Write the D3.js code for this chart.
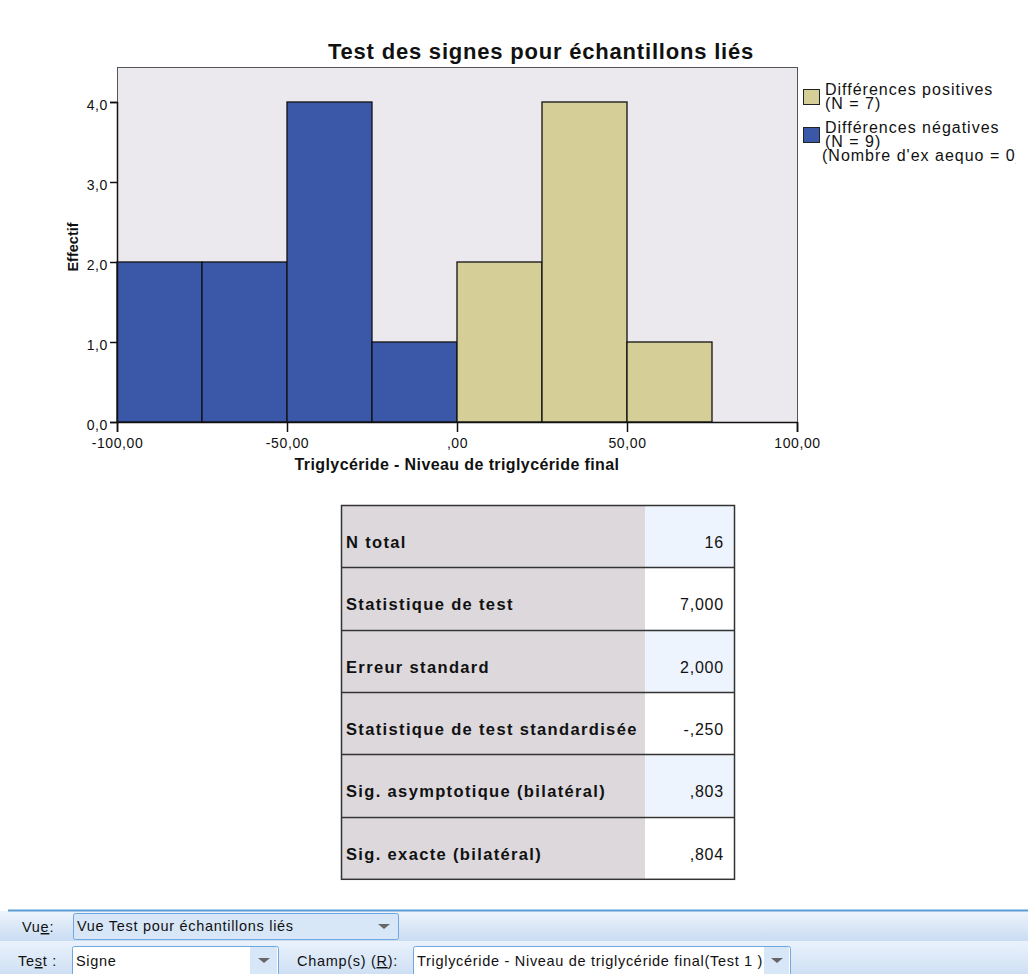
<!DOCTYPE html>
<html><head><meta charset="utf-8">
<script src="https://cdn.jsdelivr.net/npm/d3@7"></script>
<style>
html,body{margin:0;padding:0;background:#fff;}
svg{display:block;font-family:"Liberation Sans",Arial,sans-serif;}
</style></head>
<body><svg id="c" width="1028" height="974"></svg>
<script>
const binStarts = [-100, -75, -50, -25, 0, 25, 50];
const binCounts = [2, 2, 4, 1, 2, 4, 1];
const binGroup = ["neg","neg","neg","neg","pos","pos","pos"];
const xTicks = [-100, -50, 0, 50, 100];
const xTickLabels = ["-100,00", "-50,00", ",00", "50,00", "100,00"];
const yTicks = [0, 1, 2, 3, 4];
const yTickLabels = ["0,0", "1,0", "2,0", "3,0", "4,0"];
const legendLabels = [["Différences positives","(N = 7)"],["Différences négatives","(N = 9)","(Nombre d'ex aequo = 0)"]];
const tableLabels = ["N total","Statistique de test","Erreur standard","Statistique de test standardisée","Sig. asymptotique (bilatéral)","Sig. exacte (bilatéral)"];
const tableValues = ["16","7,000","2,000","-,250",",803",",804"];

const colors = {neg:"#3B58A8", pos:"#D5CE96"};
const svg = d3.select("#c");

const L=117, R=797, T=67, B=422;
const x = d3.scaleLinear().domain([-100,100]).range([L,R]);
const y = d3.scaleLinear().domain([0,4]).range([B,102]);

svg.append("rect").attr("x",L).attr("y",T).attr("width",R-L).attr("height",B-T).attr("fill","#ECE9EE");
svg.append("path").attr("d",`M${L},${B}V${T}H${R}V${B}`).attr("fill","none").attr("stroke","#555").attr("stroke-width",1).attr("shape-rendering","crispEdges");

svg.selectAll("rect.bar").data(binStarts).enter().append("rect").attr("class","bar")
  .attr("x",d=>x(d)).attr("width",(d)=>x(d+25)-x(d))
  .attr("y",(d,i)=>y(binCounts[i])).attr("height",(d,i)=>B-y(binCounts[i]))
  .attr("fill",(d,i)=>colors[binGroup[i]]).attr("stroke","#111").attr("stroke-width",1.3);

const yAxis = d3.axisLeft(y).tickValues(yTicks).tickFormat((d,i)=>yTickLabels[i]).tickSize(7).tickPadding(2);
const gy = svg.append("g").attr("transform",`translate(${L},0)`).call(yAxis);
const xAxis = d3.axisBottom(x).tickValues(xTicks).tickFormat((d,i)=>xTickLabels[i]).tickSize(10).tickPadding(6);
const gx = svg.append("g").attr("transform",`translate(0,${B})`).call(xAxis);
[gx,gy].forEach(g=>{
  g.select(".domain").attr("stroke","#111").attr("stroke-width",1.5);
  g.selectAll(".tick line").attr("stroke","#111").attr("stroke-width",1.5);
  g.selectAll("text").attr("font-size",14).attr("letter-spacing",0.6).attr("fill","#111").attr("font-family","Liberation Sans, Arial, sans-serif");
});
gy.selectAll("text").attr("dy","0.55em");

svg.append("text").attr("x",541).attr("y",59).attr("text-anchor","middle").attr("font-size",22).attr("letter-spacing",0.8).attr("font-weight","bold").attr("fill","#111").text("Test des signes pour échantillons liés");
svg.append("text").attr("x",457).attr("y",470).attr("text-anchor","middle").attr("font-size",16).attr("letter-spacing",0.4).attr("font-weight","bold").attr("fill","#111").text("Triglycéride - Niveau de triglycéride final");
svg.append("text").attr("transform","translate(78,247) rotate(-90)").attr("text-anchor","middle").attr("font-size",14.5).attr("font-weight","bold").attr("fill","#111").text("Effectif");

// legend
const defs = svg.append("defs");
defs.append("clipPath").attr("id","lgclip").append("rect").attr("x",780).attr("y",70).attr("width",236).attr("height",110);
const lg = svg.append("g").attr("clip-path","url(#lgclip)");
const legKeys=["pos","neg"], swY=[89,127], txtY=[[95,109],[133,147,161]], txtX=[825,825,822];
legKeys.forEach((k,i)=>{
  lg.append("rect").attr("x",803.5).attr("y",swY[i]+0.5).attr("width",16).attr("height",15).attr("fill",colors[k]).attr("stroke","#222").attr("stroke-width",1);
  legendLabels[i].forEach((t,j)=>{
    lg.append("text").attr("x",txtX[j]).attr("y",txtY[i][j]).attr("font-size",16).attr("letter-spacing",1).attr("fill","#111").text(t);
  });
});

// table
const tx0=341, tx1=645, tx2=735, ty0=505, rowH=62.3;
const tg = svg.append("g");
tableLabels.forEach((lab,i)=>{
  const yy = ty0 + i*rowH;
  tg.append("rect").attr("x",tx0).attr("y",yy).attr("width",tx1-tx0).attr("height",rowH).attr("fill","#DCD8DC");
  tg.append("rect").attr("x",tx1).attr("y",yy).attr("width",tx2-tx1).attr("height",rowH).attr("fill", i%2===0?"#EEF4FD":"#FFFFFF");
  tg.append("text").attr("x",tx0+5).attr("y",yy+rowH/2+12).attr("font-size",16.5).attr("letter-spacing",1.35).attr("font-weight","bold").attr("fill","#111").text(lab);
  tg.append("text").attr("x",tx2-11).attr("y",yy+rowH/2+12).attr("text-anchor","end").attr("font-size",16).attr("letter-spacing",0.8).attr("fill","#111").text(tableValues[i]);
  if(i>0) tg.append("line").attr("x1",tx0).attr("x2",tx2).attr("y1",Math.round(yy)+0.5).attr("y2",Math.round(yy)+0.5).attr("stroke","#333").attr("stroke-width",1.5);
});
tg.append("rect").attr("x",tx0+0.5).attr("y",ty0+0.5).attr("width",tx2-tx0-1).attr("height",rowH*6).attr("fill","none").attr("stroke","#333").attr("stroke-width",1.5);

// toolbar
const gr = defs.append("linearGradient").attr("id","tb").attr("x1",0).attr("y1",0).attr("x2",0).attr("y2",1);
gr.append("stop").attr("offset","0%").attr("stop-color","#EEF4FC");
gr.append("stop").attr("offset","100%").attr("stop-color","#C9DCF2");
const gr2 = defs.append("linearGradient").attr("id","tb2").attr("x1",0).attr("y1",0).attr("x2",0).attr("y2",1);
gr2.append("stop").attr("offset","0%").attr("stop-color","#EAF2FC");
gr2.append("stop").attr("offset","100%").attr("stop-color","#CFE0F4");
svg.append("rect").attr("x",0).attr("y",911).attr("width",1028).attr("height",30).attr("fill","url(#tb)");
svg.append("rect").attr("x",0).attr("y",941).attr("width",1028).attr("height",33).attr("fill","url(#tb2)");
svg.append("line").attr("x1",8).attr("x2",1028).attr("y1",910.5).attr("y2",910.5).attr("stroke","#5C9BD8").attr("stroke-width",2);

function dropdown(x0,y0,w,h,label,fill){
  svg.append("rect").attr("x",x0+0.5).attr("y",y0+0.5).attr("width",w).attr("height",h).attr("rx",2).attr("fill",fill).attr("stroke","#6FA7E0").attr("stroke-width",1);
  svg.append("text").attr("x",x0+4).attr("y",y0+h/2+5).attr("font-size",14.5).attr("letter-spacing",0.7).attr("fill","#111").text(label);
  const cx = x0+w-14;
  svg.append("path").attr("d",`M${cx-6},${y0+h/2-2}h12l-6,5z`).attr("fill","#666");
}
dropdown(73,913,325,26,"Vue Test pour échantillons liés","#D8E7F8");
dropdown(72,946,206,30,"Signe","#FFFFFF");
svg.append("rect").attr("x",250).attr("y",947).attr("width",27).attr("height",28).attr("fill","#D8E7F8");
svg.append("path").attr("d",`M258,958h12l-6,5z`).attr("fill","#666");
dropdown(413,946,377,30,"Triglycéride - Niveau de triglycéride final(Test 1 )","#FFFFFF");
svg.append("rect").attr("x",764).attr("y",947).attr("width",25).attr("height",28).attr("fill","#D8E7F8");
svg.append("path").attr("d",`M771,958h12l-6,5z`).attr("fill","#666");

const lab = svg.append("g").attr("font-size",14.5).attr("letter-spacing",0.7).attr("fill","#111");
const t1 = lab.append("text").attr("x",22).attr("y",932);
t1.append("tspan").text("Vu"); t1.append("tspan").attr("text-decoration","underline").text("e"); t1.append("tspan").text(":");
const t2 = lab.append("text").attr("x",18).attr("y",966);
t2.append("tspan").text("Te"); t2.append("tspan").attr("text-decoration","underline").text("s"); t2.append("tspan").text("t :");
const t3 = lab.append("text").attr("x",297).attr("y",966);
t3.append("tspan").text("Champ(s) ("); t3.append("tspan").attr("text-decoration","underline").text("R"); t3.append("tspan").text("):");
</script>
</body></html>
